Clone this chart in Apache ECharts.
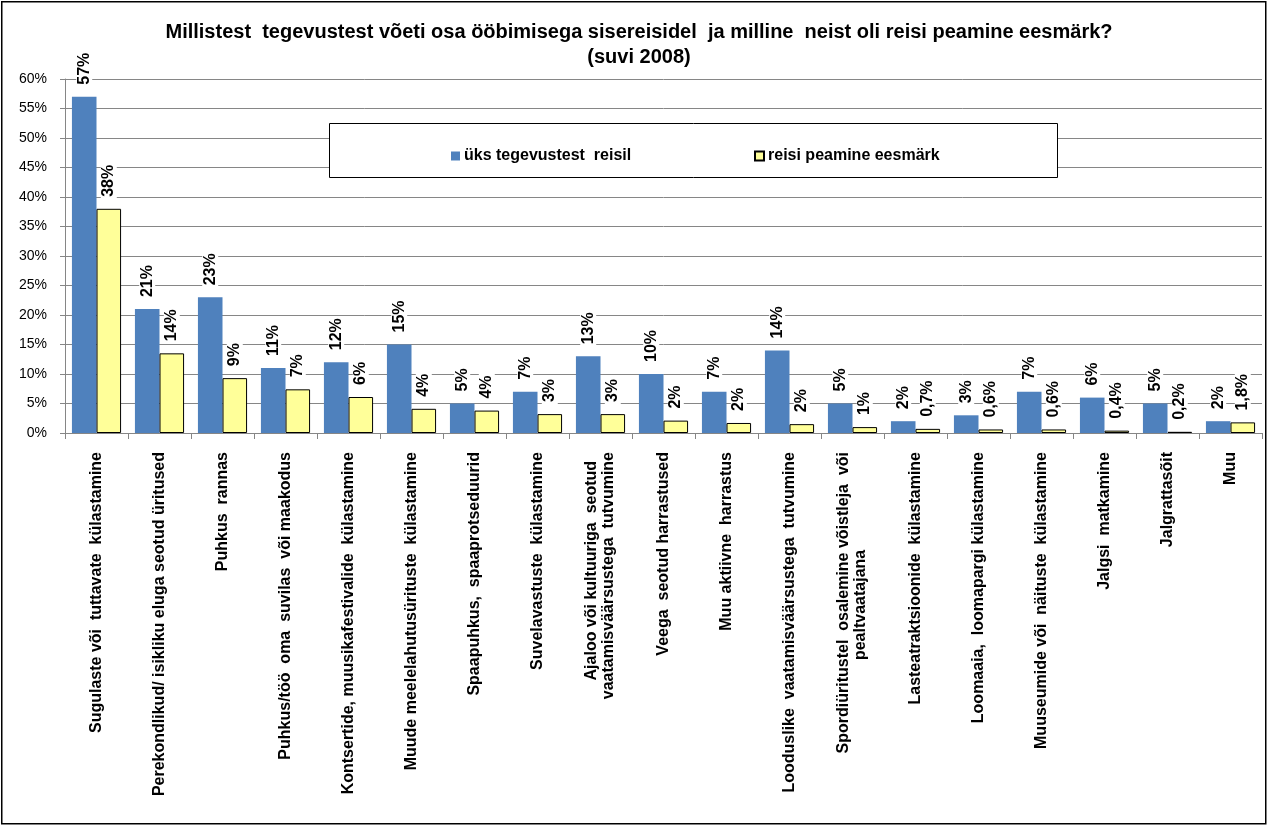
<!DOCTYPE html>
<html>
<head>
<meta charset="utf-8">
<script src="https://cdn.jsdelivr.net/npm/echarts@6/dist/echarts.min.js"></script>
<style>
html,body{margin:0;padding:0;background:#fff;}
#c{width:1267px;height:825px;}
</style>
</head>
<body>
<div id="c"></div>
<script>
const categories = [
  'Sugulaste või  tuttavate  külastamine',
  'Perekondlikud/ isikliku eluga seotud üritused',
  'Puhkus  rannas',
  'Puhkus/töö  oma  suvilas  või maakodus',
  'Kontsertide, muusikafestivalide  külastamine',
  'Muude meelelahutusürituste  külastamine',
  'Spaapuhkus,  spaaprotseduurid',
  'Suvelavastuste  külastamine',
  'Ajaloo või kultuuriga  seotud  \nvaatamisväärsustega  tutvumine',
  'Veega  seotud harrastused',
  'Muu aktiivne  harrastus',
  'Looduslike  vaatamisväärsustega  tutvumine',
  'Spordiüritustel  osalemine võistleja  või\npealtvaatajana                      ',
  'Lasteatraktsioonide  külastamine',
  'Loomaaia,  loomapargi külastamine',
  'Muuseumide või  näituste  külastamine',
  'Jalgsi  matkamine',
  'Jalgrattasõit',
  'Muu'
];
const seriesNames = ['üks tegevustest  reisil', 'reisi peamine eesmärk'];
const activityValues = [57, 21, 23, 11, 12, 15, 5, 7, 13, 10, 7, 14, 5, 2, 3, 7, 6, 5, 2];
const activityLabels = ['57%','21%','23%','11%','12%','15%','5%','7%','13%','10%','7%','14%','5%','2%','3%','7%','6%','5%','2%'];
const mainPurposeValues = [38, 13.5, 9.3, 7.4, 6.1, 4.1, 3.8, 3.2, 3.2, 2.1, 1.7, 1.5, 1.0, 0.7, 0.6, 0.6, 0.4, 0.2, 1.8];
const mainPurposeLabels = ['38%','14%','9%','7%','6%','4%','4%','3%','3%','2%','2%','2%','1%','0,7%','0,6%','0,6%','0,4%','0,2%','1,8%'];
const yTicks = {min: 0, max: 60, interval: 5};

const FONT = '"Liberation Sans", Arial, sans-serif';
const chart = echarts.init(document.getElementById('c'));
const labelStyle = (labels) => ({
  show: true,
  position: 'top',
  rotate: 90,
  align: 'left',
  verticalAlign: 'middle',
  distance: 10,
  color: '#000',
  fontFamily: FONT,
  fontWeight: 'bold',
  fontSize: 16,
  backgroundColor: '#fff',
  padding: [0, 2],
  formatter: (p) => labels[p.dataIndex]
});
const legendBase = {
  top: 143,
  z: 20,
  itemWidth: 9,
  itemHeight: 9,
  icon: 'rect',
  textStyle: {fontFamily: FONT, fontWeight: 'bold', fontSize: 16, color: '#000', padding: [0, 0, 0, -1]}
};
chart.setOption({
  animation: false,
  backgroundColor: '#fff',
  title: {
    text: 'Millistest  tegevustest võeti osa ööbimisega sisereisidel  ja milline  neist oli reisi peamine eesmärk?\n(suvi 2008)',
    left: 634,
    textAlign: 'center',
    top: 15,
    textStyle: {fontFamily: FONT, fontWeight: 'bold', fontSize: 20, lineHeight: 25, color: '#000'}
  },
  graphic: [
    {type: 'rect', left: 1, top: 1, z: -10, shape: {width: 1264, height: 822}, style: {fill: '#fff', stroke: '#000', lineWidth: 1.5}},
    {type: 'rect', left: 329, top: 123, z: 10, shape: {width: 728, height: 54}, style: {fill: '#fff', stroke: '#000', lineWidth: 1}}
  ],
  legend: [
    Object.assign({left: 446, data: [seriesNames[0]]}, legendBase),
    Object.assign({left: 749, data: [seriesNames[1]]}, legendBase)
  ],
  grid: {left: 65, right: 5, top: 79, bottom: 392, containLabel: false},
  xAxis: {
    type: 'category',
    data: categories,
    axisLine: {lineStyle: {color: '#868686', width: 1}},
    axisTick: {show: true, length: 6, lineStyle: {color: '#868686'}},
    axisLabel: {
      interval: 0,
      rotate: 90,
      margin: 19,
      color: '#000',
      fontFamily: FONT,
      fontWeight: 'bold',
      fontSize: 16,
      lineHeight: 17
    }
  },
  yAxis: {
    type: 'value',
    min: yTicks.min,
    max: yTicks.max,
    interval: yTicks.interval,
    axisLine: {show: true, lineStyle: {color: '#868686'}},
    axisTick: {show: true, length: 5, lineStyle: {color: '#868686'}},
    splitLine: {lineStyle: {color: '#868686', width: 1}},
    axisLabel: {
      formatter: '{value}%',
      color: '#000',
      fontFamily: FONT,
      fontSize: 14,
      margin: 18
    }
  },
  series: [
    {
      name: seriesNames[0],
      type: 'bar',
      data: activityValues,
      barGap: '0%',
      barCategoryGap: '22%',
      itemStyle: {color: '#4F81BD'},
      label: labelStyle(activityLabels)
    },
    {
      name: seriesNames[1],
      type: 'bar',
      data: mainPurposeValues,
      itemStyle: {color: '#FFFF99', borderColor: '#000', borderWidth: 1},
      label: labelStyle(mainPurposeLabels)
    }
  ]
});
</script>
</body>
</html>
